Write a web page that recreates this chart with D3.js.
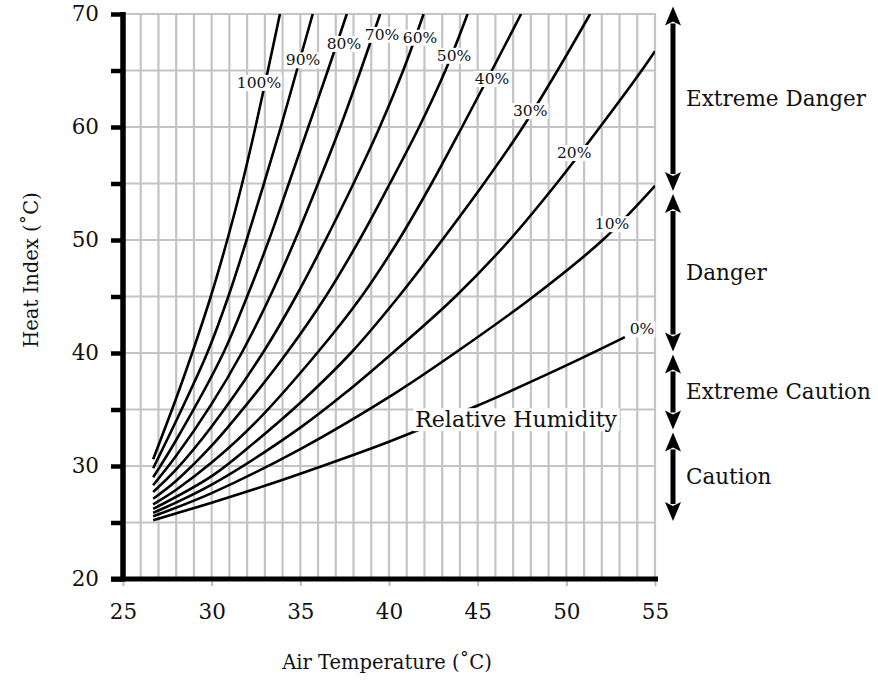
<!DOCTYPE html>
<html>
<head>
<meta charset="utf-8">
<script src="https://cdn.jsdelivr.net/npm/d3@7/dist/d3.min.js"></script>
<style>
  body { margin: 0; background: #fff; }
  text { font-family: "DejaVu Serif", serif; fill: #111; }
</style>
</head>
<body>
<svg id="chart" width="878" height="680"></svg>
<script>
// tick values
const xTicks = [25, 30, 35, 40, 45, 50, 55];
const yTicks = [20, 25, 30, 35, 40, 45, 50, 55, 60, 65, 70];

// heat index curves, [air temp °C, heat index °C]
const rh100 = [[26.7, 30.6], [28, 36.0], [28.9, 40], [29.95, 45], [30.88, 50], [31.72, 55], [32.47, 60], [33.17, 65], [33.85, 70]];
const rh90 = [[26.7, 29.8], [28, 34.0], [29.75, 40], [30.94, 45], [31.97, 50], [32.95, 55], [33.9, 60], [34.8, 65], [35.7, 70]];
const rh80 = [[26.7, 29.0], [28, 32.3], [30.66, 40], [32.0, 45], [33.23, 50], [34.35, 55], [35.45, 60], [36.55, 65], [37.62, 70]];
const rh70 = [[26.7, 28.3], [28, 30.9], [30, 35.5], [31.69, 40], [33.29, 45], [34.7, 50], [36.0, 55], [37.25, 60], [38.4, 65], [39.5, 70]];
const rh60 = [[26.7, 27.7], [28, 29.7], [30, 33.5], [32.88, 40], [34.75, 45], [36.42, 50], [38.0, 55], [39.48, 60], [40.8, 65], [41.95, 70]];
const rh50 = [[26.7, 27.1], [28, 28.7], [30, 31.8], [32, 35.5], [34.23, 40], [36.43, 45], [38.33, 50], [40.05, 55], [41.7, 60], [43.18, 65], [44.43, 70]];
const rh40 = [[26.7, 26.6], [28, 27.9], [30, 30.3], [32.5, 33.9], [35.95, 40], [38.45, 45], [40.55, 50], [42.4, 55], [44.12, 60], [45.8, 65], [47.45, 70]];
const rh30 = [[26.7, 26.2], [30, 29.1], [32.5, 32.2], [35, 35.6], [37.85, 40], [40.55, 45], [43.0, 50], [45.35, 55], [47.55, 60], [49.5, 65], [51.34, 70]];
const rh20 = [[26.7, 25.85], [30, 28.35], [35, 33.4], [37.8, 36.8], [40.2, 40], [43.75, 45], [46.8, 50], [49.45, 55], [51.9, 60], [54.25, 65], [55, 66.7]];
const rh10 = [[26.7, 25.55], [30, 27.6], [35, 31.5], [40.4, 36.5], [43.72, 40], [48.15, 45], [52.05, 50], [55, 54.8]];
const rh0 = [[26.7, 25.2], [30, 26.75], [33, 28.25], [36, 29.87], [40, 32.15], [45, 35.35], [50, 38.9], [53.3, 41.4]];

const curves = [rh0, rh10, rh20, rh30, rh40, rh50, rh60, rh70, rh80, rh90, rh100];
const curveNames = ["0%", "10%", "20%", "30%", "40%", "50%", "60%", "70%", "80%", "90%", "100%"];

// danger zones on the right (heat index °C)
const zoneNames = ["Caution", "Extreme Caution", "Danger", "Extreme Danger"];
const zoneLow = [25, 33.1, 40, 54.2];
const zoneHigh = [33.1, 40, 54.2, 70.8];

const svg = d3.select("#chart");
const x = d3.scaleLinear().domain([25, 55]).range([123, 655]);
const y = d3.scaleLinear().domain([20, 70]).range([579, 14]);

svg.append("clipPath").attr("id", "plotClip")
	.append("rect")
	.attr("x", x(25)).attr("y", y(70))
	.attr("width", x(55) - x(25)).attr("height", y(20) - y(70));

// grid
const grid = svg.append("g").attr("stroke", "#c4c4c4").attr("stroke-width", 2.2);
grid.selectAll(".v")
	.data(d3.range(26, 56))
	.join("line")
	.attr("x1", d => x(d)).attr("x2", d => x(d))
	.attr("y1", y(70) - 1).attr("y2", y(20));
grid.selectAll(".h")
	.data(d3.range(25, 71, 5))
	.join("line")
	.attr("x1", x(25)).attr("x2", x(55) + 1)
	.attr("y1", d => y(d)).attr("y2", d => y(d));

// curves
const line = d3.line()
	.x(d => x(d[0]))
	.y(d => y(d[1]))
	.curve(d3.curveCatmullRom.alpha(0.5));

svg.append("g")
	.attr("clip-path", "url(#plotClip)")
	.selectAll("path")
	.data(curves)
	.join("path")
	.attr("d", line)
	.attr("fill", "none")
	.attr("stroke", "#000")
	.attr("stroke-width", 2.6);

// curve labels, placed in data units
const labelAt = [[54.27, 42.1], [52.58, 51.4], [50.44, 57.7], [47.96, 61.4], [45.81, 64.25],
	[43.67, 66.3], [41.75, 67.9], [39.61, 68.15], [37.46, 67.35], [35.15, 65.9], [32.67, 63.9]];

function boxedText(g, tx, ty, str, size, pad) {
	const t = g.append("text")
		.attr("x", tx).attr("y", ty)
		.attr("text-anchor", "middle")
		.attr("dominant-baseline", "central")
		.attr("font-size", size)
		.text(str);
	const b = t.node().getBBox();
	g.insert("rect", "text")
		.attr("x", b.x - pad).attr("y", b.y + 1)
		.attr("width", b.width + pad * 2).attr("height", b.height - 2)
		.attr("fill", "#fff");
}

const labels = svg.append("g");
curveNames.forEach((name, i) => {
	const g = labels.append("g");
	boxedText(g, x(labelAt[i][0]), y(labelAt[i][1]), name, 15.5, 1);
});

boxedText(svg.append("g"), x(47.17), y(34.1), "Relative Humidity", 22, 2);

// axes
const yAxis = d3.axisLeft(y)
	.tickValues(yTicks)
	.tickSize(12)
	.tickPadding(12)
	.tickFormat(d => d % 10 === 0 ? d : "");
const ya = svg.append("g").attr("transform", `translate(${x(25)},0)`).call(yAxis);
ya.select(".domain").remove();
ya.selectAll(".tick line").attr("stroke", "#000").attr("stroke-width", 4.5);
ya.selectAll(".tick text").attr("font-size", 21.5).attr("font-family", "DejaVu Serif").attr("fill", "#111");

const xAxis = d3.axisBottom(x)
	.tickValues(xTicks)
	.tickSize(7)
	.tickPadding(18)
	.tickFormat(d => d);
const xa = svg.append("g").attr("transform", `translate(0,${y(20)})`).call(xAxis);
xa.select(".domain").remove();
xa.selectAll(".tick line").attr("stroke", "#bbb").attr("stroke-width", 2);
xa.selectAll(".tick text").attr("font-size", 21.5).attr("font-family", "DejaVu Serif").attr("fill", "#111");

svg.append("line")
	.attr("x1", x(25)).attr("x2", x(25))
	.attr("y1", y(70) - 2).attr("y2", y(20) + 2.5)
	.attr("stroke", "#000").attr("stroke-width", 5.5);
svg.append("line")
	.attr("x1", x(25) - 12).attr("x2", x(55) + 3)
	.attr("y1", y(20)).attr("y2", y(20))
	.attr("stroke", "#000").attr("stroke-width", 5);

svg.append("text")
	.attr("x", 387)
	.attr("y", 662)
	.attr("text-anchor", "middle")
	.attr("dominant-baseline", "central")
	.attr("font-size", 19.5)
	.text("Air Temperature (˚C)");

svg.append("text")
	.attr("transform", `translate(31,270) rotate(-90)`)
	.attr("text-anchor", "middle")
	.attr("dominant-baseline", "central")
	.attr("font-size", 19.5)
	.text("Heat Index (˚C)");

// zone arrows
const ax = 673;
const head = 19, halfW = 8, inset = 1.5;
const zones = svg.append("g");
zoneNames.forEach((name, i) => {
	const top = y(zoneHigh[i]) + inset;
	const bot = y(zoneLow[i]) - inset;
	zones.append("line")
		.attr("x1", ax).attr("x2", ax)
		.attr("y1", top + head - 2).attr("y2", bot - head + 2)
		.attr("stroke", "#000").attr("stroke-width", 5);
	zones.append("path")
		.attr("d", `M${ax},${top} L${ax - halfW},${top + head} L${ax},${top + head - 4} L${ax + halfW},${top + head} Z`)
		.attr("fill", "#000");
	zones.append("path")
		.attr("d", `M${ax},${bot} L${ax - halfW},${bot - head} L${ax},${bot - head + 4} L${ax + halfW},${bot - head} Z`)
		.attr("fill", "#000");
	zones.append("text")
		.attr("x", 686)
		.attr("y", y((zoneLow[i] + zoneHigh[i]) / 2))
		.attr("dominant-baseline", "central")
		.attr("font-size", 21.5)
		.text(name);
});
</script>
</body>
</html>
